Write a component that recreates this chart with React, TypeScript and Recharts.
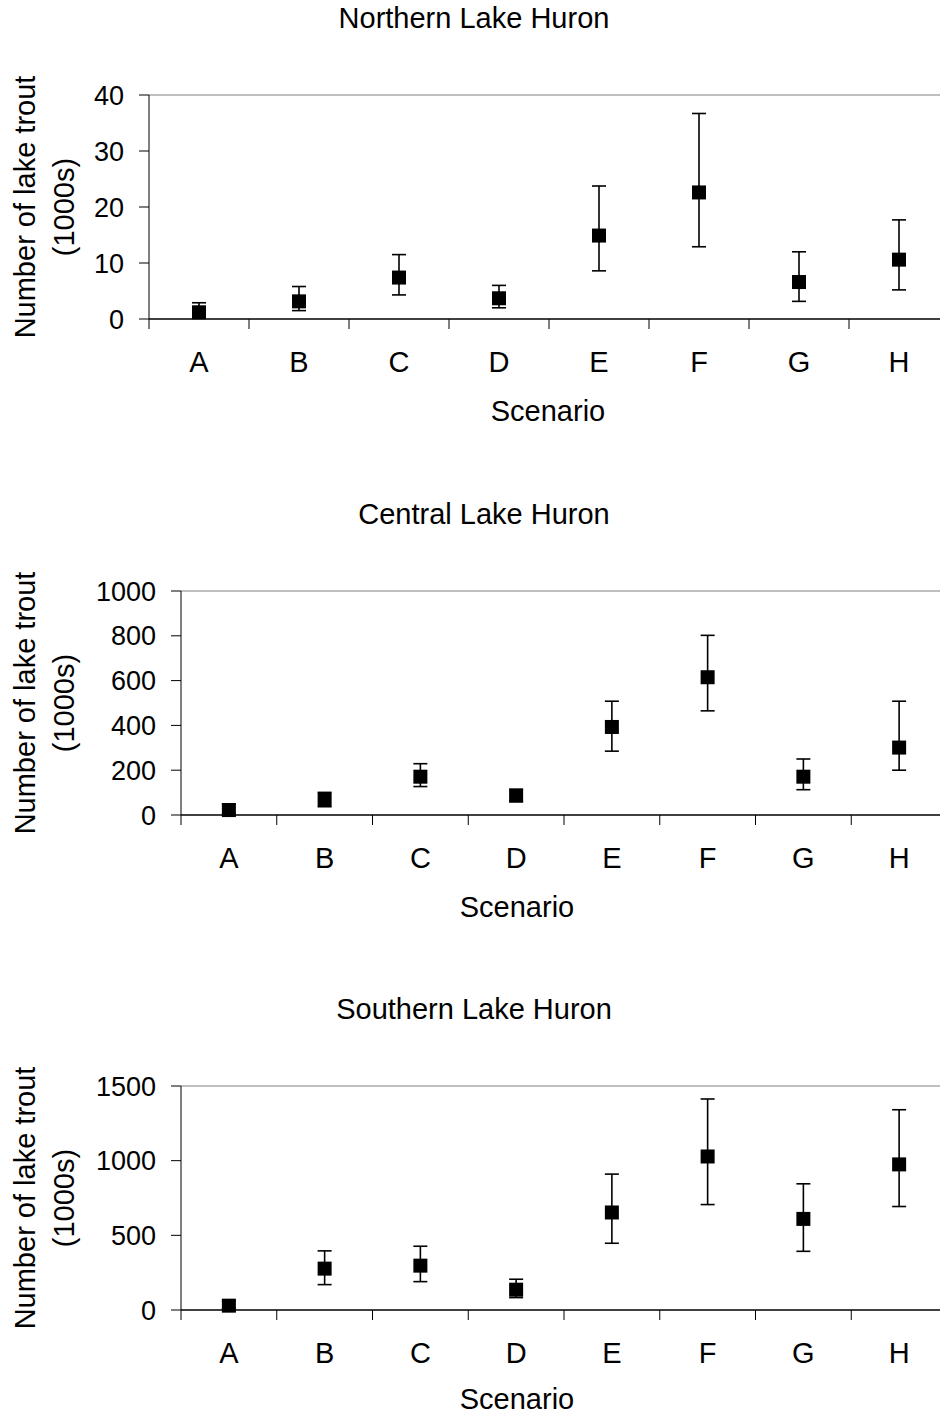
import React from "react";
import {
  ComposedChart,
  Line,
  XAxis,
  YAxis,
  ErrorBar,
  ReferenceLine,
  Label,
} from "recharts";

const scenarios = ["A", "B", "C", "D", "E", "F", "G", "H"];

// Northern Lake Huron (1000s of lake trout)
const northernMean = [1.2, 3.15, 7.4, 3.7, 14.9, 22.6, 6.6, 10.6];
const northernLow = [0.3, 1.5, 4.3, 2.0, 8.6, 12.9, 3.15, 5.2];
const northernHigh = [2.9, 5.8, 11.5, 6.0, 23.75, 36.7, 12.0, 17.7];
const northernTicks = [0, 10, 20, 30, 40];

// Central Lake Huron
const centralMean = [22, 69, 171, 86, 393, 615, 171, 301];
const centralLow = [5, 37, 127, 61, 285, 465, 113, 200];
const centralHigh = [50, 101, 229, 115, 508, 802, 250, 508];
const centralTicks = [0, 200, 400, 600, 800, 1000];

// Southern Lake Huron
const southernMean = [29, 277, 297, 136, 653, 1028, 610, 975];
const southernLow = [10, 170, 190, 83, 447, 706, 393, 693];
const southernHigh = [60, 396, 427, 206, 910, 1413, 845, 1341];
const southernTicks = [0, 500, 1000, 1500];

const FONT = '"Liberation Sans", Arial, sans-serif';
const TICK_SIZE = 27;
const TITLE_SIZE = 29;
const PLOT_H = 224;
const MARGIN_TOP = 20;
const XAXIS_H = 112;
const CHART_W = 960;

function buildRows(mean: number[], low: number[], high: number[]) {
  return scenarios.map((s, i) => ({
    scenario: s,
    value: mean[i],
    err: [mean[i] - low[i], high[i] - mean[i]],
  }));
}

// eslint-disable-next-line @typescript-eslint/no-explicit-any
function SquareDot(props: any) {
  const { cx, cy } = props;
  if (cx == null || cy == null) return null;
  return <rect x={cx - 7} y={cy - 7} width={14} height={14} fill="#000" />;
}

// category labels sit between tick marks, like the Excel original
// eslint-disable-next-line @typescript-eslint/no-explicit-any
function ScenarioTick(props: any) {
  const { x, y, payload, band } = props;
  const axisY = y - 10;
  return (
    <g>
      <line
        x1={x - band / 2}
        x2={x - band / 2}
        y1={axisY}
        y2={axisY + 10}
        stroke="#000"
      />
      <text
        x={x}
        y={axisY + 53}
        textAnchor="middle"
        fontSize={TITLE_SIZE}
        fontFamily={FONT}
        fill="#000"
      >
        {payload.value}
      </text>
    </g>
  );
}

interface PanelProps {
  title: string;
  rows: ReturnType<typeof buildRows>;
  ticks: number[];
  plotTop: number;
  plotLeft: number;
  plotWidth: number;
  titleX: number;
  scenarioX: number;
  scenarioDy?: number;
}

function Panel({
  title,
  rows,
  ticks,
  plotTop,
  plotLeft,
  plotWidth,
  titleX,
  scenarioX,
  scenarioDy = 102,
}: PanelProps) {
  const max = ticks[ticks.length - 1];
  const band = plotWidth / scenarios.length;
  return (
    <>
      <div
        style={{
          position: "absolute",
          left: titleX - 300,
          width: 600,
          top: plotTop - 91,
          textAlign: "center",
          fontSize: TITLE_SIZE,
          lineHeight: `${TITLE_SIZE}px`,
          fontFamily: FONT,
          color: "#000",
        }}
      >
        {title}
      </div>
      <div style={{ position: "absolute", left: 0, top: plotTop - MARGIN_TOP }}>
        <ComposedChart
          width={CHART_W}
          height={MARGIN_TOP + PLOT_H + XAXIS_H}
          data={rows}
          margin={{
            top: MARGIN_TOP,
            right: CHART_W - plotLeft - plotWidth,
            bottom: 0,
            left: 0,
          }}
        >
          <XAxis
            dataKey="scenario"
            type="category"
            scale="point"
            padding={{ left: band / 2, right: band / 2 }}
            height={XAXIS_H}
            interval={0}
            tickSize={10}
            tickMargin={0}
            tickLine={false}
            axisLine={{ stroke: "#000", strokeWidth: 1.3 }}
            tick={<ScenarioTick band={band} />}
          >
            <Label
              content={(p: any) => (
                <text
                  x={scenarioX}
                  y={p.viewBox.y + scenarioDy}
                  textAnchor="middle"
                  fontSize={TITLE_SIZE}
                  fontFamily={FONT}
                  fill="#000"
                >
                  Scenario
                </text>
              )}
            />
          </XAxis>
          <YAxis
            type="number"
            domain={[0, max]}
            ticks={ticks}
            interval={0}
            width={plotLeft}
            tickSize={10}
            tickMargin={15}
            axisLine={{ stroke: "#000" }}
            tickLine={{ stroke: "#000" }}
            tick={{ fill: "#000", fontSize: TICK_SIZE, fontFamily: FONT }}
          >
            <Label
              content={(p: any) => {
                const cy = p.viewBox.y + p.viewBox.height / 2;
                return (
                  <g fontSize={TITLE_SIZE} fontFamily={FONT} fill="#000">
                    <text
                      x={35}
                      y={cy}
                      textAnchor="middle"
                      transform={`rotate(-90 35 ${cy})`}
                    >
                      Number of lake trout
                    </text>
                    <text
                      x={74}
                      y={cy}
                      textAnchor="middle"
                      transform={`rotate(-90 74 ${cy})`}
                    >
                      (1000s)
                    </text>
                  </g>
                );
              }}
            />
          </YAxis>
          <ReferenceLine y={max} stroke="#808080" strokeWidth={1} />
          <Line
            dataKey="value"
            stroke="none"
            dot={<SquareDot />}
            activeDot={false}
            legendType="none"
            isAnimationActive={false}
          >
            <ErrorBar
              dataKey="err"
              width={7}
              stroke="#000"
              strokeWidth={1.6}
              direction="y"
            />
          </Line>
        </ComposedChart>
      </div>
    </>
  );
}

export default function App() {
  return (
    <div
      style={{
        position: "absolute",
        left: 0,
        top: 0,
        width: 940,
        height: 1416,
        overflow: "hidden",
        background: "#fff",
        fontFamily: FONT,
      }}
    >
      <Panel
        title="Northern Lake Huron"
        rows={buildRows(northernMean, northernLow, northernHigh)}
        ticks={northernTicks}
        plotTop={95}
        plotLeft={149}
        plotWidth={800}
        titleX={474}
        scenarioX={548}
      />
      <Panel
        title="Central Lake Huron"
        rows={buildRows(centralMean, centralLow, centralHigh)}
        ticks={centralTicks}
        plotTop={590.5}
        plotLeft={181}
        plotWidth={766}
        titleX={484}
        scenarioX={517}
      />
      <Panel
        title="Southern Lake Huron"
        rows={buildRows(southernMean, southernLow, southernHigh)}
        ticks={southernTicks}
        plotTop={1085.5}
        plotLeft={181}
        plotWidth={766}
        titleX={474}
        scenarioX={517}
        scenarioDy={99}
      />
    </div>
  );
}
